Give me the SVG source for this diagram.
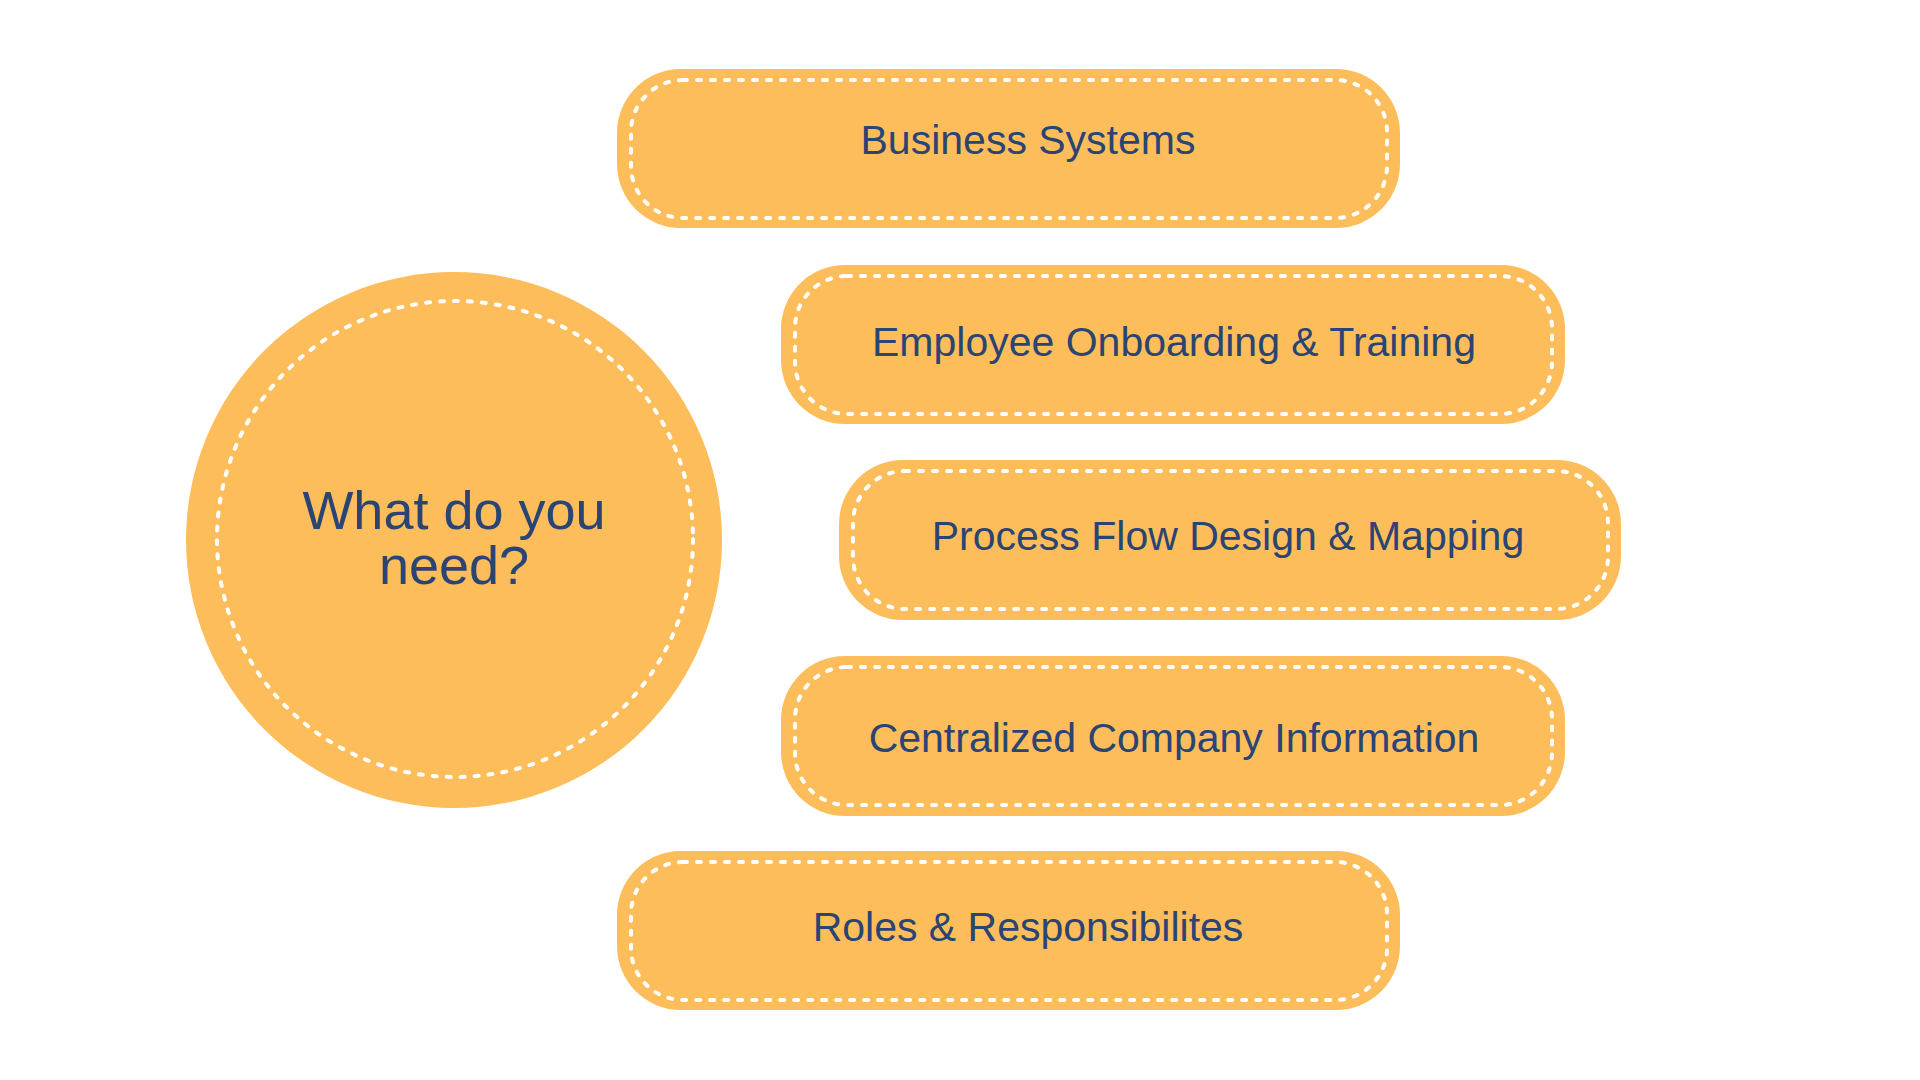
<svg xmlns="http://www.w3.org/2000/svg" width="1920" height="1080" viewBox="0 0 1920 1080">
<style>
.fill{fill:#FDBD5A;}
.dash{fill:none;stroke:#FFFFFF;stroke-width:4;stroke-dasharray:4 10;stroke-linecap:round;}
.lbl{font-family:"Liberation Sans",Arial,sans-serif;font-size:41px;fill:#2A4474;text-anchor:middle;}
.big{font-family:"Liberation Sans",Arial,sans-serif;font-size:54px;fill:#2A4474;text-anchor:middle;}
</style>
<rect width="1920" height="1080" fill="#FFFFFF"/>
<g id="connectors"/>
<g id="center">
<circle class="fill" cx="454" cy="540" r="268"/>
<circle class="dash" cx="455" cy="539" r="238"/>
<text class="big" x="454" y="529">What do you</text>
<text class="big" x="454" y="584">need?</text>
</g>
<g id="business-systems">
<rect class="fill" x="617" y="69" width="783" height="159" rx="64"/>
<rect class="dash" x="631" y="80" width="756" height="138" rx="52"/>
<text class="lbl" x="1028" y="154">Business Systems</text>
</g>
<g id="employee-onboarding">
<rect class="fill" x="781" y="265" width="784" height="159" rx="64"/>
<rect class="dash" x="795" y="276" width="757" height="138" rx="52"/>
<text class="lbl" x="1174" y="356">Employee Onboarding &amp; Training</text>
</g>
<g id="process-flow">
<rect class="fill" x="839" y="460" width="782" height="160" rx="64"/>
<rect class="dash" x="853" y="471" width="755" height="138" rx="52"/>
<text class="lbl" x="1228" y="550">Process Flow Design &amp; Mapping</text>
</g>
<g id="centralized-info">
<rect class="fill" x="781" y="656" width="784" height="160" rx="64"/>
<rect class="dash" x="795" y="667" width="757" height="138" rx="52"/>
<text class="lbl" x="1174" y="752">Centralized Company Information</text>
</g>
<g id="roles">
<rect class="fill" x="617" y="851" width="783" height="159" rx="64"/>
<rect class="dash" x="631" y="862" width="756" height="138" rx="52"/>
<text class="lbl" x="1028" y="941">Roles &amp; Responsibilites</text>
</g>
</svg>
